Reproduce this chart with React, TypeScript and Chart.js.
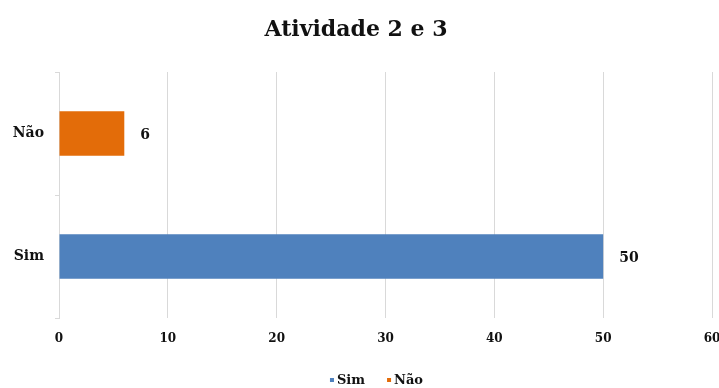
import React, { useEffect, useRef } from "react";
import { Chart, registerables } from "chart.js";

Chart.register(...registerables);

const categories = ["Não", "Sim"];
const seriesNames = ["Sim", "Não"];
const simValues = [null, 50];
const naoValues = [6, null];
const xTicks = [0, 10, 20, 30, 40, 50, 60];
const titleText = "Atividade 2 e 3";

const FONT = "'DejaVu Serif', Georgia, serif";
const TEXT = "#111111";
const BLUE = "#4F81BD";
const ORANGE = "#E36C09";

const valueLabels = {
  id: "valueLabels",
  afterDatasetsDraw(chart: any) {
    const ctx = chart.ctx;
    ctx.save();
    ctx.font = `bold 14px ${FONT}`;
    ctx.fillStyle = TEXT;
    ctx.textAlign = "left";
    ctx.textBaseline = "middle";
    chart.data.datasets.forEach((ds: any, di: number) => {
      const meta = chart.getDatasetMeta(di);
      meta.data.forEach((el: any, i: number) => {
        const v = ds.data[i];
        if (v === null || v === undefined) return;
        ctx.fillText(String(v), el.x + 16, el.y + 2);
      });
    });
    ctx.restore();
  },
};

const customLegend = {
  id: "customLegend",
  afterDraw(chart: any) {
    const ctx = chart.ctx;
    ctx.save();
    ctx.font = `bold 13px ${FONT}`;
    ctx.textBaseline = "middle";
    ctx.textAlign = "left";
    const box = 4;
    const gap = 3;
    const itemGap = 22;
    const items = chart.data.datasets.map((ds: any) => ({
      text: ds.label,
      color: ds.backgroundColor,
      w: box + gap + ctx.measureText(ds.label).width,
    }));
    const total = items.reduce((a: number, it: any) => a + it.w, 0) + itemGap * (items.length - 1);
    let x = (chart.width - total) / 2 + 17;
    const y = 380;
    items.forEach((it: any) => {
      ctx.fillStyle = it.color;
      ctx.fillRect(x, y - box / 2, box, box);
      ctx.fillStyle = TEXT;
      ctx.fillText(it.text, x + box + gap, y + 1);
      x += it.w + itemGap;
    });
    ctx.restore();
  },
};

export default function App() {
  const ref = useRef<HTMLCanvasElement>(null);
  useEffect(() => {
    document.body.style.margin = "0";
    const chart = new Chart(ref.current as HTMLCanvasElement, {
      type: "bar",
      data: {
        labels: categories,
        datasets: [
          { label: seriesNames[0], data: simValues as any, backgroundColor: BLUE, categoryPercentage: 1, barPercentage: 0.36 },
          { label: seriesNames[1], data: naoValues as any, backgroundColor: ORANGE, categoryPercentage: 1, barPercentage: 0.36 },
        ],
      },
      options: {
        indexAxis: "y",
        responsive: false,
        animation: false,
        layout: { padding: { left: 0, right: 7, top: 0, bottom: 0 } },
        plugins: {
          legend: { display: false },
          tooltip: { enabled: false },
          title: {
            display: true,
            text: titleText,
            color: TEXT,
            font: { family: FONT, size: 22, weight: "bold", lineHeight: 1.2 },
            padding: { top: 17, bottom: 28.6 },
          },
        },
        scales: {
          x: {
            min: 0,
            max: 60,
            stacked: true,
            afterBuildTicks(scale: any) {
              scale.ticks = xTicks.map((v) => ({ value: v }));
            },
            afterFit(scale: any) {
              scale.height = 70;
              scale.paddingLeft = 0;
              scale.paddingRight = 0;
            },
            grid: { color: "#d9d9d9", drawTicks: false, lineWidth: 1 },
            border: { display: false },
            ticks: {
              padding: 14,
              color: TEXT,
              font: { family: FONT, size: 12, weight: "bold" },
              maxRotation: 0,
            },
          },
          y: {
            stacked: true,
            afterFit(scale: any) {
              scale.width = 59;
            },
            grid: { drawOnChartArea: false, drawTicks: true, tickLength: 4, color: "#d9d9d9", offset: true },
            border: { display: true, color: "#d9d9d9" },
            ticks: {
              padding: 11,
              color: TEXT,
              font: { family: FONT, size: 14, weight: "bold" },
            },
          },
        },
      },
      plugins: [valueLabels, customLegend],
    });
    return () => chart.destroy();
  }, []);
  return <canvas ref={ref} width={719} height={388} style={{ display: "block" }} />;
}
